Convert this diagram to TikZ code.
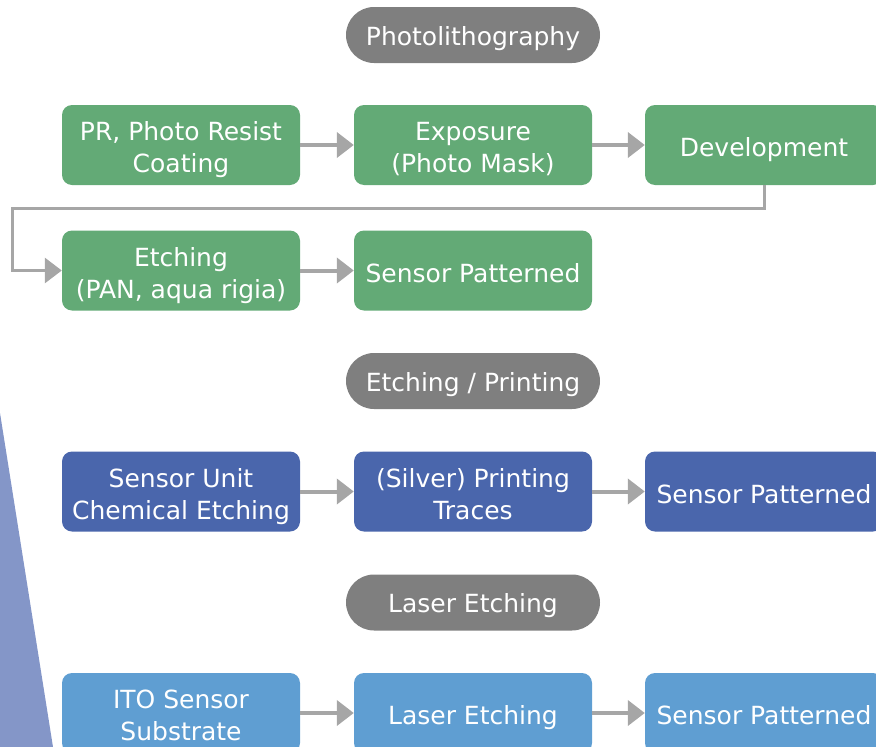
\documentclass[tikz,border=0pt]{standalone}
\usepackage{fontspec}
\setmainfont{DejaVu Sans}
\usetikzlibrary{arrows.meta}
\definecolor{gbox}{HTML}{63AA76}
\definecolor{dbox}{HTML}{4A66AC}
\definecolor{lbox}{HTML}{5F9ED2}
\definecolor{pillgray}{HTML}{7F7F7F}
\definecolor{arrgray}{HTML}{A6A6A6}
\definecolor{tri}{HTML}{8496C8}
\newcommand\strTop{\rule{0pt}{30pt}}
\newcommand\strBot{\rule[-7pt]{0pt}{7pt}}
\newcommand\strOne{\rule[-7pt]{0pt}{37pt}}
\newcommand\strPill{\rule[-7pt]{0pt}{34pt}}
\tikzset{
  box/.style={rounded corners=10pt, minimum width=238pt, minimum height=80pt, align=center, text=white,
    font=\fontsize{25pt}{32pt}\selectfont, inner sep=0pt},
  pill/.style={rounded corners=28pt, minimum width=254pt, minimum height=56pt, fill=pillgray, text=white,
    font=\fontsize{25pt}{32pt}\selectfont, inner sep=0pt},
  arr/.style={draw=arrgray, line width=4pt, -{Triangle[length=17pt,width=25pt]}},
  conn/.style={draw=arrgray, line width=3pt, -{Triangle[length=17pt,width=25pt]}}
}
\begin{document}
\begin{tikzpicture}[x=1pt,y=-1pt]
\useasboundingbox (0,0) rectangle (876,747);
\clip (0,0) rectangle (876,747);
\fill[tri] (0,413) -- (53,747) -- (0,747) -- cycle;

\node[pill] (p1) at (473,35) {\strPill Photolithography};
\node[box, fill=gbox] (g1) at (181,145) {\strTop PR, Photo Resist\\Coating\strBot};
\node[box, fill=gbox] (g2) at (473,145) {\strTop Exposure\\(Photo Mask)\strBot};
\node[box, fill=gbox] (g3) at (764,145) {\strOne Development};
\node[box, fill=gbox] (g4) at (181,270.5) {\strTop Etching\\(PAN, aqua rigia)\strBot};
\node[box, fill=gbox] (g5) at (473,270.5) {\strOne Sensor Patterned};

\node[pill] (p2) at (473,381) {\strPill Etching / Printing};
\node[box, fill=dbox] (b1) at (181,491.5) {\strTop Sensor Unit\\Chemical Etching\strBot};
\node[box, fill=dbox] (b2) at (473,491.5) {\strTop (Silver) Printing\\Traces\strBot};
\node[box, fill=dbox] (b3) at (764,491.5) {\strOne Sensor Patterned};

\node[pill] (p3) at (473,602.5) {\strPill Laser Etching};
\node[box, fill=lbox] (c1) at (181,713) {\strTop ITO Sensor\\Substrate\strBot};
\node[box, fill=lbox] (c2) at (473,713) {\strOne Laser Etching};
\node[box, fill=lbox] (c3) at (764,713) {\strOne Sensor Patterned};

\draw[arr] (g1.east) -- (g2.west);
\draw[arr] (g2.east) -- (g3.west);
\draw[arr] (g4.east) -- (g5.west);
\draw[arr] (b1.east) -- (b2.west);
\draw[arr] (b2.east) -- (b3.west);
\draw[arr] (c1.east) -- (c2.west);
\draw[arr] (c2.east) -- (c3.west);

\coordinate (k) at (12,208);
\draw[conn] (g3.south) |- (k) |- (g4.west);
\end{tikzpicture}
\end{document}
